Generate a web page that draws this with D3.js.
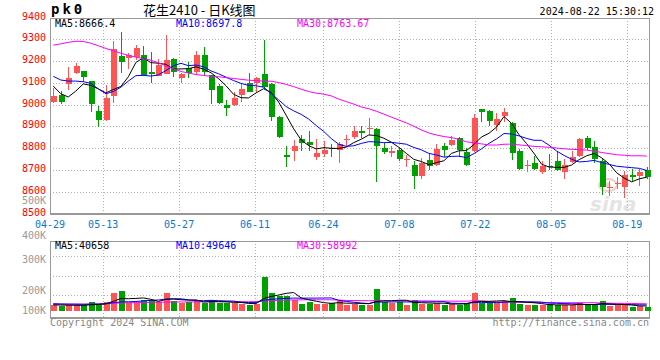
<!DOCTYPE html>
<html><head><meta charset="utf-8">
<script src="https://cdn.jsdelivr.net/npm/d3@7"></script>
<style>body{margin:0;background:#fff}svg{display:block}</style>
</head><body><svg id="c" width="660" height="360"></svg>
<script>
const dates = ["04-29","04-30","05-06","05-07","05-08","05-09","05-10","05-13","05-14","05-15","05-16","05-17","05-20","05-21","05-22","05-23","05-24","05-27","05-28","05-29","05-30","05-31","06-03","06-04","06-05","06-06","06-07","06-11","06-12","06-13","06-14","06-17","06-18","06-19","06-20","06-21","06-24","06-25","06-26","06-27","06-28","07-01","07-02","07-03","07-04","07-05","07-08","07-09","07-10","07-11","07-12","07-15","07-16","07-17","07-18","07-19","07-22","07-23","07-24","07-25","07-26","07-29","07-30","07-31","08-01","08-02","08-05","08-06","08-07","08-08","08-09","08-12","08-13","08-14","08-15","08-16","08-19","08-20","08-21","08-22"];
const open = [9011,9043,9096,9145,9153,9107,8969,8928,9038,9222, 9216,9219,9226,9149,9132,9142,9211,9120,9168,9150, 9226,9135,9085,8999,8999,9045,9098,9098,9140,9095, 8944,8767,8785,8843,8827,8758,8773,8801,8793,8840, 8849,8880,8886,8889,8801,8778,8793,8745,8724,8671, 8747,8721,8811,8816,8846,8782,8785,8979,8972,8908, 8946,8915,8785,8718,8732,8691,8720,8740,8691,8735, 8763,8847,8805,8743,8618,8634,8621,8679,8671,8701];
const high = [9074,9062,9173,9191,9155,9110,8992,9089,9291,9333, 9239,9276,9268,9241,9211,9318,9215,9145,9196,9245, 9263,9138,9095,9022,9057,9094,9147,9126,9297,9097, 8946,8811,8839,8862,8877,8843,8834,8821,8827,8859, 8903,8903,8938,8892,8824,8808,8800,8770,8740,8755, 8773,8819,8824,8857,8852,8801,8958,8981,8976,8961, 8984,8920,8798,8747,8762,8740,8773,8781,8752,8788, 8846,8857,8831,8748,8651,8667,8697,8706,8706,8712];
const low = [9006,9002,9066,9139,9104,8966,8897,8926,9008,9145, 9165,9203,9132,9097,9130,9140,9127,9097,9124,9142, 9130,9005,9003,8950,8992,9014,9057,9057,9072,8926, 8846,8712,8743,8785,8788,8747,8758,8758,8732,8804, 8843,8846,8862,8645,8773,8758,8743,8712,8613,8659, 8698,8717,8758,8808,8758,8717,8782,8920,8904,8877, 8920,8744,8698,8689,8701,8682,8701,8694,8659,8732, 8758,8793,8732,8587,8579,8614,8572,8648,8625,8660];
const close = [9038,9012,9122,9176,9127,9005,8931,9030,9254,9196, 9229,9260,9136,9142,9183,9203,9150,9142,9147,9226, 9150,9066,9007,8984,9030,9072,9060,9124,9079,8941, 8853,8760,8811,8822,8813,8776,8790,8796,8819,8843, 8880,8868,8892,8808,8781,8788,8752,8750,8671,8732, 8717,8798,8793,8839,8793,8721,8938,8966,8923,8935, 8966,8778,8706,8722,8706,8720,8713,8699,8721,8760, 8844,8801,8752,8621,8622,8638,8679,8666,8691,8666];
const ma5 = [9085,9050,9035,9062,9095,9088.4,9072.2,9053.8,9069.4,9083.2, 9128,9193.8,9215,9192.6,9190,9184.8,9162.8,9164,9165,9173.6, 9163,9146.2,9119.2,9086.6,9047.4,9031.8,9030.6,9054,9073,9055.2, 9011.4,8951.4,8888.8,8837.4,8811.8,8796.4,8802.4,8799.4,8798.8,8804.8, 8825.6,8841.2,8860.4,8858.2,8845.8,8827.4,8804.2,8775.8,8748.4,8738.6, 8724.4,8733.6,8742.2,8775.8,8788,8788.8,8816.8,8851.4,8868.2,8896.6, 8945.6,8913.6,8861.6,8821.4,8775.6,8726.4,8713.4,8712,8711.8,8722.6, 8747.4,8765,8775.6,8755.6,8728,8686.8,8662.4,8645.2,8659.2,8666.4];
const ma10 = [9130,9113,9108,9108,9105,9098,9072,9050,9060,9080, 9108.2,9133,9134.4,9131,9136.6,9156.4,9178.3,9189.5,9178.8,9181.8, 9173.9,9154.5,9141.6,9125.8,9110.5,9097.4,9088.4,9086.6,9079.8,9051.3, 9021.6,8991,8971.4,8955.2,8933.5,8903.9,8876.9,8844.1,8818.1,8808.3, 8811,8821.8,8829.9,8828.5,8825.3,8826.5,8822.7,8818.1,8803.3,8792.2, 8775.9,8768.9,8759,8762.1,8763.3,8756.6,8775.2,8796.8,8822,8842.3, 8867.2,8865.2,8856.5,8844.8,8836.1,8836,8813.5,8786.8,8766.6,8749.1, 8736.9,8739.2,8743.8,8733.7,8725.3,8717.1,8713.7,8710.4,8707.4,8697.8];
const ma30 = [9273,9279,9286,9291,9290,9282,9270,9258,9247,9236, 9226,9218,9211,9204,9192,9178,9164,9152,9145,9138, 9134,9130,9128,9124,9120,9116,9112,9110,9108,9107.4, 9101.2,9092.8,9082.5,9070.7,9060.2,9052.6,9047.9,9040.1,9025.6,9013.8, 9002.2,8989.1,8981,8969.8,8956.4,8942.6,8929.3,8916.3,8900.4,8883.9, 8869.5,8860.6,8853.4,8848.6,8840.7,8829,8824.9,8819.7,8814.5,8814.3, 8818,8818.6,8815.1,8811.8,8808.2,8806.4,8803.8,8800.6,8797.3,8794.5, 8793.3,8791.1,8786.4,8780.2,8774.9,8769.9,8767.5,8764.7,8765.3,8763.67];
// volume in thousands of lots
const volume = [51.9,41,46.4,46.4,46.4,73.8,51.9,73.8,150.3,161.2, 65.6,65.6,92.9,92.9,73.8,150.3,79.2,65.6,73.8,87.4, 65.6,92.9,65.6,65.6,65.6,60.1,51.9,60.1,275.9,147.5, 120.2,120.2,92.9,54.6,73.8,60.1,60.1,65.6,82,51.9, 60.1,51.9,51.9,177.6,71,65.6,73.8,51.9,87.4,60.1, 54.6,65.6,51.9,60.1,51.9,65.6,147.5,65.6,65.6,65.6, 79.2,106.5,60.1,46.4,46.4,46.4,60.1,51.9,46.4,46.4, 66,54,54,80,39,46,48,36,42,31];
const vma5 = [50,49,48,47,46.4,50.8,53,58.5,79.2,102.2, 100.6,103.3,107.1,95.6,78.2,95.1,97.8,92.4,88.5,91.3, 74.3,77.1,77.1,75.4,71.1,70,61.8,60.7,102.7,119.1, 131.1,144.8,151.3,107.1,92.3,80.3,68.3,62.8,68.3,63.9, 63.9,62.3,59.6,78.7,82.5,83.6,88,88,69.9,67.8, 65.6,63.9,63.9,58.5,56.8,59,75.4,78.1,79.2,82, 84.7,76.5,75.4,71.6,67.7,61.2,51.9,50.2,50.2,50.2, 54.2,52.9,53.4,60.1,58.6,54.6,53.4,49.8,42.2,40.658];
const vma10 = [60,58,57,56,55,56,57,60,68,74.3, 75.7,78.1,82.8,87.4,90.2,97.8,100.6,99.7,92.1,84.7, 84.7,87.4,84.7,82,81.2,72.1,69.4,68.9,89.1,95.1, 100.5,103.3,106,104.9,105.7,105.7,106.5,107.1,87.7,78.1, 72.1,65.3,61.2,73.5,73.2,73.8,75.1,73.8,74.3,75.1, 74.6,76,76,64.2,62.3,62.3,69.7,71,68.9,69.4, 71.9,76,76.8,75.4,74.9,72.9,64.2,62.8,60.9,59, 57.7,52.4,51.8,55.2,54.4,54.4,53.2,51.6,51.1,49.646];
const vma30 = [55,55,55,56,56,57,58,60,63,66, 68,69,70,71,72,73,74,74,74,75, 75,75,76,76,76,76,76,77,82,84.7, 87,89.6,91.2,91.4,92.4,91.9,92.2,91.9,89.6,86, 85.8,85.3,84,86.8,86.7,83.9,83.7,83.2,83.7,82.8, 82.4,81.5,81,80.9,80.4,80.6,83.8,84,77,74.2, 72.9,72.4,71.3,71,70.1,69.7,69.7,69.2,68,67.8, 68,68.1,68.2,64.9,63.9,63.2,62.3,61.8,60.3,58.992];
const priceTicks = [9400,9300,9200,9100,9000,8900,8800,8700,8600,8500];
const dateTicks = ["04-29","05-13","05-27","06-11","06-24","07-08","07-22","08-05","08-19"];
const volTickLabels = ["500K","400K","300K","200K","100K"];
const maText = ["MA5:8666.4","MA10:8697.8","MA30:8763.67"];
const volMaText = ["MA5:40658","MA10:49646","MA30:58992"];

const svg = d3.select("#c");
const MONO = "'DejaVu Sans Mono', monospace";
const RED = "#ff5454", GREEN = "#00a000";
const L = 50, R = 650;
const n = dates.length;
const idx = d3.range(n);

const y = d3.scaleLinear().domain([8500, 9400]).range([213.5, 17.5]);
const xb = d3.scaleBand().domain(idx).range([49.5, 650.5]);
const xg = d3.scaleLinear().domain([0, n - 1]).range([L, R]);
const cx = i => xb(i) + xb.bandwidth() / 2;
const vTop = 241, vBot = 318;
const yv = d3.scaleLinear().domain([0, 300]).range([311, 274.4]);

// ---------- grids ----------
const grid = svg.append("g").attr("stroke", "#b0b0b0").attr("stroke-dasharray", "1,2").attr("shape-rendering", "crispEdges");
priceTicks.filter(v => v < 9400 && v > 8500).forEach(v => {
  grid.append("line").attr("x1", L).attr("x2", R).attr("y1", Math.round(y(v)) + 0.5).attr("y2", Math.round(y(v)) + 0.5);
});
dateTicks.slice(1).forEach(d => {
  const xx = Math.round(xg(dates.indexOf(d))) + 0.5;
  grid.append("line").attr("x1", xx).attr("x2", xx).attr("y1", y(9400)).attr("y2", y(8500));
  grid.append("line").attr("x1", xx).attr("x2", xx).attr("y1", vTop).attr("y2", vBot);
});
[256, 275.5, 295].forEach(g => {
  grid.append("line").attr("x1", L).attr("x2", R).attr("y1", Math.round(g) + 0.5).attr("y2", Math.round(g) + 0.5);
});

// ---------- frames ----------
const fr = svg.append("g").attr("fill", "none").attr("stroke", "#999").attr("shape-rendering", "crispEdges");
fr.append("line").attr("x1", L + 0.5).attr("x2", L + 0.5).attr("y1", 18).attr("y2", 214);
fr.append("line").attr("x1", R - 0.5).attr("x2", R - 0.5).attr("y1", 18).attr("y2", 214);
fr.append("line").attr("x1", L).attr("x2", R).attr("y1", 18.5).attr("y2", 18.5);
fr.append("line").attr("x1", L).attr("x2", R).attr("y1", 214).attr("y2", 214).attr("stroke-width", 2);
fr.append("line").attr("x1", L + 0.5).attr("x2", L + 0.5).attr("y1", vTop).attr("y2", vBot);
fr.append("line").attr("x1", R - 0.5).attr("x2", R - 0.5).attr("y1", vTop).attr("y2", vBot);
fr.append("line").attr("x1", L).attr("x2", R).attr("y1", vTop + 0.5).attr("y2", vTop + 0.5);
fr.append("line").attr("x1", L).attr("x2", R).attr("y1", vBot).attr("y2", vBot).attr("stroke-width", 2);

// ---------- watermark ----------
const wm = svg.append("g").attr("opacity", 0.55);
wm.append("ellipse").attr("cx", 608).attr("cy", 185).attr("rx", 9).attr("ry", 6).attr("fill", "none").attr("stroke", "#f4a0a0").attr("stroke-width", 2);
wm.append("circle").attr("cx", 608).attr("cy", 185).attr("r", 2.5).attr("fill", "#f4a0a0");
wm.append("text").attr("x", 590).attr("y", 211).text("sina").attr("font-family", "'DejaVu Sans', sans-serif").attr("font-style", "italic").attr("font-weight", "bold").attr("font-size", 20).attr("fill", "#cfcfcf");

// ---------- candles ----------
const cg = svg.append("g").attr("shape-rendering", "crispEdges");
idx.forEach(i => {
  const up = close[i] >= open[i];
  const col = up ? RED : GREEN;
  const c = Math.round(cx(i));
  cg.append("line").attr("x1", c + 0.5).attr("x2", c + 0.5).attr("y1", y(high[i])).attr("y2", y(low[i])).attr("stroke", col);
  const yt = y(Math.max(open[i], close[i])), yb = y(Math.min(open[i], close[i]));
  cg.append("rect").attr("x", c - 2).attr("width", 6).attr("y", Math.round(yt)).attr("height", Math.max(1, Math.round(yb) - Math.round(yt))).attr("fill", col);
});

// ---------- MA lines ----------
const line = d3.line().x((d, i) => cx(i)).y(d => y(d));
[[ma5, "#000"], [ma10, "#0000ff"], [ma30, "#ff00ff"]].forEach(([arr, col]) => {
  svg.append("path").attr("d", line(arr)).attr("fill", "none").attr("stroke", col).attr("stroke-width", 1);
});

// ---------- volume ----------
const vg = svg.append("g").attr("shape-rendering", "crispEdges");
idx.forEach(i => {
  const up = close[i] >= open[i];
  const c = Math.round(cx(i));
  vg.append("rect").attr("x", c - 2).attr("width", 6).attr("y", Math.round(yv(volume[i]))).attr("height", Math.round(yv(0)) - Math.round(yv(volume[i]))).attr("fill", up ? RED : GREEN);
});
const vline = d3.line().x((d, i) => cx(i)).y(d => yv(d));
[[vma30, "#ff00ff"], [vma10, "#0000ff"], [vma5, "#000"]].forEach(([arr, col]) => {
  svg.append("path").attr("d", vline(arr)).attr("fill", "none").attr("stroke", col).attr("stroke-width", 1);
});

// ---------- texts ----------
const T = (x, yy, s, opt = {}) => svg.append("text").attr("x", x).attr("y", yy).text(s)
  .attr("font-family", opt.ff || MONO).attr("font-size", opt.fs || 10).attr("fill", opt.fill || "#000")
  .attr("text-anchor", opt.anchor || "start").attr("font-weight", opt.fw || "normal").attr("letter-spacing", opt.ls || 0);

priceTicks.forEach(v => T(46, Math.round(y(v)) + 2, v, { fill: "#ff0000", anchor: "end" }));
const volLabelY = [204, 239, 263, 294, 314];
volTickLabels.forEach((s, k) => T(46, volLabelY[k], s, { fill: "#999", anchor: "end" }));
dateTicks.forEach(d => T(xg(dates.indexOf(d)), 228, d, { fill: "#0a78d0", anchor: "middle" }));

const maCols = ["#000", "#0000ff", "#ff00ff"];
const maX = [55, 176, 297];
maText.forEach((s, k) => T(maX[k], 27, s, { fill: maCols[k] }));
volMaText.forEach((s, k) => T(maX[k], 249, s, { fill: maCols[k] }));

T(51, 14, "pk0", { fw: "bold", fs: 14, ls: 3 });
T(143, 15, "花生2410 - 日K线图", { ff: "'Noto Sans CJK SC', sans-serif", fs: 13 });
T(654, 15, "2024-08-22 15:30:12", { anchor: "end" });
T(50, 326, "Copyright 2024 SINA.COM", { fill: "#888" });
T(649, 326, "http://finance.sina.com.cn", { fill: "#888", anchor: "end" });
</script></body></html>
